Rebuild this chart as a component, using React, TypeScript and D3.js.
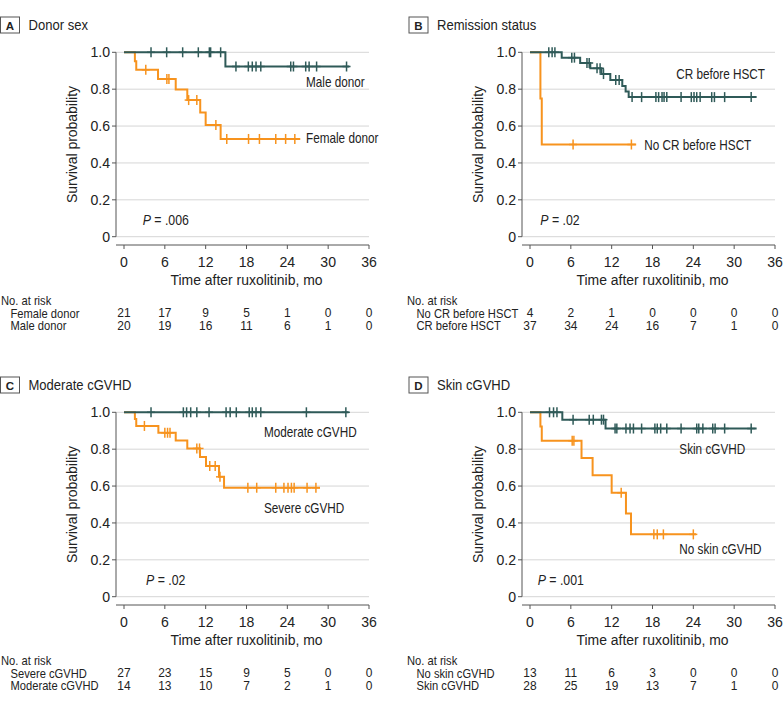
import React from "react";
import * as d3 from "d3";

// ---------- shared ticks ----------
const timeTicks = [0, 6, 12, 18, 24, 30, 36];
const survTicks = [0, 0.2, 0.4, 0.6, 0.8, 1.0];

// ---------- Panel A: Donor sex ----------
const femaleDonorSteps: [number, number][] = [[0, 1], [1.6, 0.952], [1.8, 0.905], [5.0, 0.855], [7.6, 0.798], [9.3, 0.741], [11.2, 0.674], [12.0, 0.606], [14.2, 0.53]];
const femaleDonorCensor = [3.2, 6.3, 6.6, 9.5, 10.7, 13.5, 15.1, 18.3, 19.9, 22.3, 23.75, 25.1];
const femaleDonorEnd = 25.9;
const maleDonorSteps: [number, number][] = [[0, 1], [14.9, 0.923]];
const maleDonorCensor = [3.97, 6.27, 8.62, 10.92, 12.54, 12.73, 14.2, 16.45, 18.27, 18.85, 19.4, 20.1, 24.5, 24.9, 26.7, 27.2, 28.3, 32.7];
const maleDonorEnd = 33.1;
const femaleDonorRisk = [21, 17, 9, 5, 1, 0, 0];
const maleDonorRisk = [20, 19, 16, 11, 6, 1, 0];

// ---------- Panel B: Remission status ----------
const noCRSteps: [number, number][] = [[0, 1], [1.53, 0.75], [1.73, 0.5]];
const noCRCensor = [6.33, 14.9];
const noCREnd = 15.6;
const crSteps: [number, number][] = [[0, 1], [4.66, 0.971], [7.37, 0.942], [8.86, 0.913], [10.5, 0.882], [11.8, 0.85], [13.56, 0.817], [14.05, 0.787], [14.5, 0.757]];
const crCensor = [2.76, 3.25, 3.66, 6.14, 6.53, 8.37, 8.7, 9.85, 10.3, 10.8, 12.6, 13.1, 15.0, 16.4, 18.5, 18.9, 19.4, 19.7, 20.1, 22.2, 23.7, 24.1, 24.5, 25.0, 26.7, 27.1, 28.6, 32.5];
const crEnd = 33.3;
const noCRRisk = [4, 2, 1, 0, 0, 0, 0];
const crRisk = [37, 34, 24, 16, 7, 1, 0];

// ---------- Panel C: Moderate cGVHD ----------
const severeSteps: [number, number][] = [[0, 1], [1.6, 0.963], [1.8, 0.926], [5.05, 0.889], [7.6, 0.847], [9.3, 0.804], [11.17, 0.757], [12.05, 0.709], [13.96, 0.65], [14.7, 0.591]];
const severeCensor = [3.0, 6.0, 6.4, 6.76, 10.7, 11.1, 12.6, 13.4, 14.1, 18.2, 19.5, 22.3, 23.5, 24.1, 24.6, 25.0, 26.9, 28.2];
const severeEnd = 28.8;
const moderateSteps: [number, number][] = [[0, 1]];
const moderateCensor = [3.97, 8.72, 9.2, 9.8, 10.7, 12.5, 15.0, 15.6, 16.5, 18.4, 18.85, 19.4, 20.1, 26.8, 32.6];
const moderateEnd = 33.0;
const severeRisk = [27, 23, 15, 9, 5, 0, 0];
const moderateRisk = [14, 13, 10, 7, 2, 1, 0];

// ---------- Panel D: Skin cGVHD ----------
const noSkinSteps: [number, number][] = [[0, 1], [1.53, 0.923], [1.73, 0.846], [7.57, 0.752], [9.2, 0.658], [12.0, 0.564], [14.1, 0.451], [14.84, 0.338]];
const noSkinCensor = [6.2, 6.45, 13.4, 18.2, 18.7, 19.6, 24.0];
const noSkinEnd = 24.4;
const skinSteps: [number, number][] = [[0, 1], [4.75, 0.96], [11.1, 0.912]];
const skinCensor = [2.87, 3.46, 3.96, 6.33, 8.7, 9.3, 10.5, 10.8, 12.5, 12.76, 14.1, 14.7, 15.2, 16.4, 18.35, 18.7, 19.2, 20.1, 22.2, 24.5, 24.8, 25.4, 26.85, 27.2, 28.6, 32.5];
const skinEnd = 33.3;
const noSkinRisk = [13, 11, 6, 3, 0, 0, 0];
const skinRisk = [28, 25, 19, 13, 7, 1, 0];

// ---------- styling ----------
const TEAL = "#2f5a58";
const ORANGE = "#f7931e";
const FONT = "'Liberation Sans', Arial, sans-serif";

type Curve = {
  steps: [number, number][];
  censor: number[];
  end: number;
  color: string;
  label: string;
  lx: number;
  ly: number;
};

type Panel = {
  letter: string;
  title: string;
  dx: number;
  dy: number;
  boxX: number;
  riskX: number;
  pval: string;
  px: number;
  curves: Curve[];
  riskRows: { label: string; values: number[] }[];
};

const panels: Panel[] = [
  {
    letter: "A", title: "Donor sex", dx: 0, dy: 0, boxX: 0.5, riskX: 1, pval: ".006", px: 142.7,
    curves: [
      { steps: femaleDonorSteps, censor: femaleDonorCensor, end: femaleDonorEnd, color: ORANGE, label: "Female donor", lx: 306, ly: 138.3 },
      { steps: maleDonorSteps, censor: maleDonorCensor, end: maleDonorEnd, color: TEAL, label: "Male donor", lx: 306, ly: 81.7 },
    ],
    riskRows: [{ label: "Female donor", values: femaleDonorRisk }, { label: "Male donor", values: maleDonorRisk }],
  },
  {
    letter: "B", title: "Remission status", dx: 406, dy: 0, boxX: 409, riskX: 407, pval: ".02", px: 134.3,
    curves: [
      { steps: noCRSteps, censor: noCRCensor, end: noCREnd, color: ORANGE, label: "No CR before HSCT", lx: 238.3, ly: 145 },
      { steps: crSteps, censor: crCensor, end: crEnd, color: TEAL, label: "CR before HSCT", lx: 270.3, ly: 74 },
    ],
    riskRows: [{ label: "No CR before HSCT", values: noCRRisk }, { label: "CR before HSCT", values: crRisk }],
  },
  {
    letter: "C", title: "Moderate cGVHD", dx: 0, dy: 360, boxX: 0.5, riskX: 1, pval: ".02", px: 146,
    curves: [
      { steps: severeSteps, censor: severeCensor, end: severeEnd, color: ORANGE, label: "Severe cGVHD", lx: 264, ly: 147.7 },
      { steps: moderateSteps, censor: moderateCensor, end: moderateEnd, color: TEAL, label: "Moderate cGVHD", lx: 264, ly: 71.7 },
    ],
    riskRows: [{ label: "Severe cGVHD", values: severeRisk }, { label: "Moderate cGVHD", values: moderateRisk }],
  },
  {
    letter: "D", title: "Skin cGVHD", dx: 406, dy: 360, boxX: 409, riskX: 407, pval: ".001", px: 131.7,
    curves: [
      { steps: noSkinSteps, censor: noSkinCensor, end: noSkinEnd, color: ORANGE, label: "No skin cGVHD", lx: 273.3, ly: 189 },
      { steps: skinSteps, censor: skinCensor, end: skinEnd, color: TEAL, label: "Skin cGVHD", lx: 273.3, ly: 89.3 },
    ],
    riskRows: [{ label: "No skin cGVHD", values: noSkinRisk }, { label: "Skin cGVHD", values: skinRisk }],
  },
];

// local frame (panel A coordinates)
const X0 = 124, X1 = 369, Y0 = 236.7, Y1 = 52.3;
const AXIS_X = 116, AXIS_Y = 245;

function survAt(steps: [number, number][], t: number) {
  let s = 1;
  for (const [st, sv] of steps) if (st <= t) s = sv;
  return s;
}

// condensed text helper (reference uses a condensed sans)
function CText({ x, y, size, sx = 1, anchor = "start", rotate = 0, bold = false, children }: any) {
  return (
    <text
      transform={`translate(${x},${y}) rotate(${rotate}) scale(${sx},1)`}
      textAnchor={anchor}
      dominantBaseline="central"
      fontSize={size}
      fontWeight={bold ? "bold" : "normal"}
      style={{ fontFamily: FONT, fill: "#222" }}
    >
      {children}
    </text>
  );
}

function PanelView({ p }: { p: Panel }) {
  const x = d3.scaleLinear().domain([0, 36]).range([X0, X1]);
  const y = d3.scaleLinear().domain([0, 1]).range([Y0, Y1]);
  const line = d3.line<[number, number]>().x((d) => x(d[0])).y((d) => y(d[1])).curve(d3.curveStepAfter);
  return (
    <g>
      {/* title */}
      <g transform={`translate(${p.boxX},${p.dy})`}>
        <rect x={0} y={17} width={19} height={16} fill="white" stroke="#555" strokeWidth={1} />
        <CText x={9.5} y={25.5} size={11.5} anchor="middle" bold>{p.letter}</CText>
        <CText x={28} y={25} size={15} sx={0.87}>{p.title}</CText>
      </g>
      <g transform={`translate(${p.dx},${p.dy})`}>
        {survTicks.map((v) => (
          <line key={"g" + v} x1={AXIS_X} x2={X1} y1={y(v)} y2={y(v)} stroke="#d6d6d6" strokeWidth={1} />
        ))}
        <line x1={AXIS_X} x2={AXIS_X} y1={y(1)} y2={y(0)} stroke="#555" strokeWidth={1} />
        {survTicks.map((v) => (
          <g key={"yt" + v}>
            <line x1={AXIS_X - 4} x2={AXIS_X} y1={y(v)} y2={y(v)} stroke="#555" strokeWidth={1} />
            <CText x={AXIS_X - 6} y={y(v)} size={15} sx={0.94} anchor="end">{v === 0 ? "0" : v.toFixed(1)}</CText>
          </g>
        ))}
        <CText x={72} y={(y(0) + y(1)) / 2} size={15} sx={0.93} anchor="middle" rotate={-90}>Survival probability</CText>
        <line x1={AXIS_X} x2={X1} y1={AXIS_Y} y2={AXIS_Y} stroke="#555" strokeWidth={1} />
        {timeTicks.map((t) => (
          <g key={"xt" + t}>
            <line x1={x(t)} x2={x(t)} y1={AXIS_Y} y2={AXIS_Y + 4} stroke="#555" strokeWidth={1} />
            <CText x={x(t)} y={262} size={15} sx={0.94} anchor="middle">{t}</CText>
          </g>
        ))}
        <CText x={(X0 + X1) / 2} y={280} size={15} sx={0.93} anchor="middle">Time after ruxolitinib, mo</CText>
        {p.curves.map((c, i) => {
          const pts: [number, number][] = [...c.steps, [c.end, c.steps[c.steps.length - 1][1]]];
          return (
            <g key={"c" + i}>
              <path d={line(pts) || ""} fill="none" stroke={c.color} strokeWidth={2} />
              {c.censor.map((t, j) => {
                const cx = x(t), cy = y(survAt(c.steps, t));
                return (
                  <g key={j} stroke={c.color} strokeWidth={1.5}>
                    <line x1={cx} x2={cx} y1={cy - 5} y2={cy + 5} />
                    <line x1={cx - 4} x2={cx + 4} y1={cy} y2={cy} />
                  </g>
                );
              })}
            </g>
          );
        })}
        {p.curves.map((c, i) => (
          <CText key={"l" + i} x={c.lx} y={c.ly} size={14} sx={0.84}>{c.label}</CText>
        ))}
        <text
          transform={`translate(${p.px},220) scale(0.88,1)`}
          dominantBaseline="central"
          fontSize={14}
          style={{ fontFamily: FONT, fill: "#222" }}
        >
          <tspan fontStyle="italic">P</tspan>
          <tspan> = {p.pval}</tspan>
        </text>
      </g>
      {/* risk table */}
      <g transform={`translate(0,${p.dy})`}>
        <CText x={p.riskX} y={300.7} size={13} sx={0.86}>No. at risk</CText>
        {p.riskRows.map((r, i) => (
          <g key={"r" + i}>
            <CText x={p.riskX + 9.5} y={313.3 + i * 12.9} size={13} sx={0.86}>{r.label}</CText>
            {r.values.map((v, j) => (
              <CText key={j} x={p.dx + x(timeTicks[j])} y={313.3 + i * 12.9} size={13} sx={0.92} anchor="middle">{v}</CText>
            ))}
          </g>
        ))}
      </g>
    </g>
  );
}

export default function App() {
  return (
    <svg width={783} height={715} style={{ position: "absolute", left: 0, top: 0, background: "white" }}>
      <rect x={0} y={0} width={783} height={715} fill="white" />
      {panels.map((p) => (
        <PanelView key={p.letter} p={p} />
      ))}
    </svg>
  );
}
